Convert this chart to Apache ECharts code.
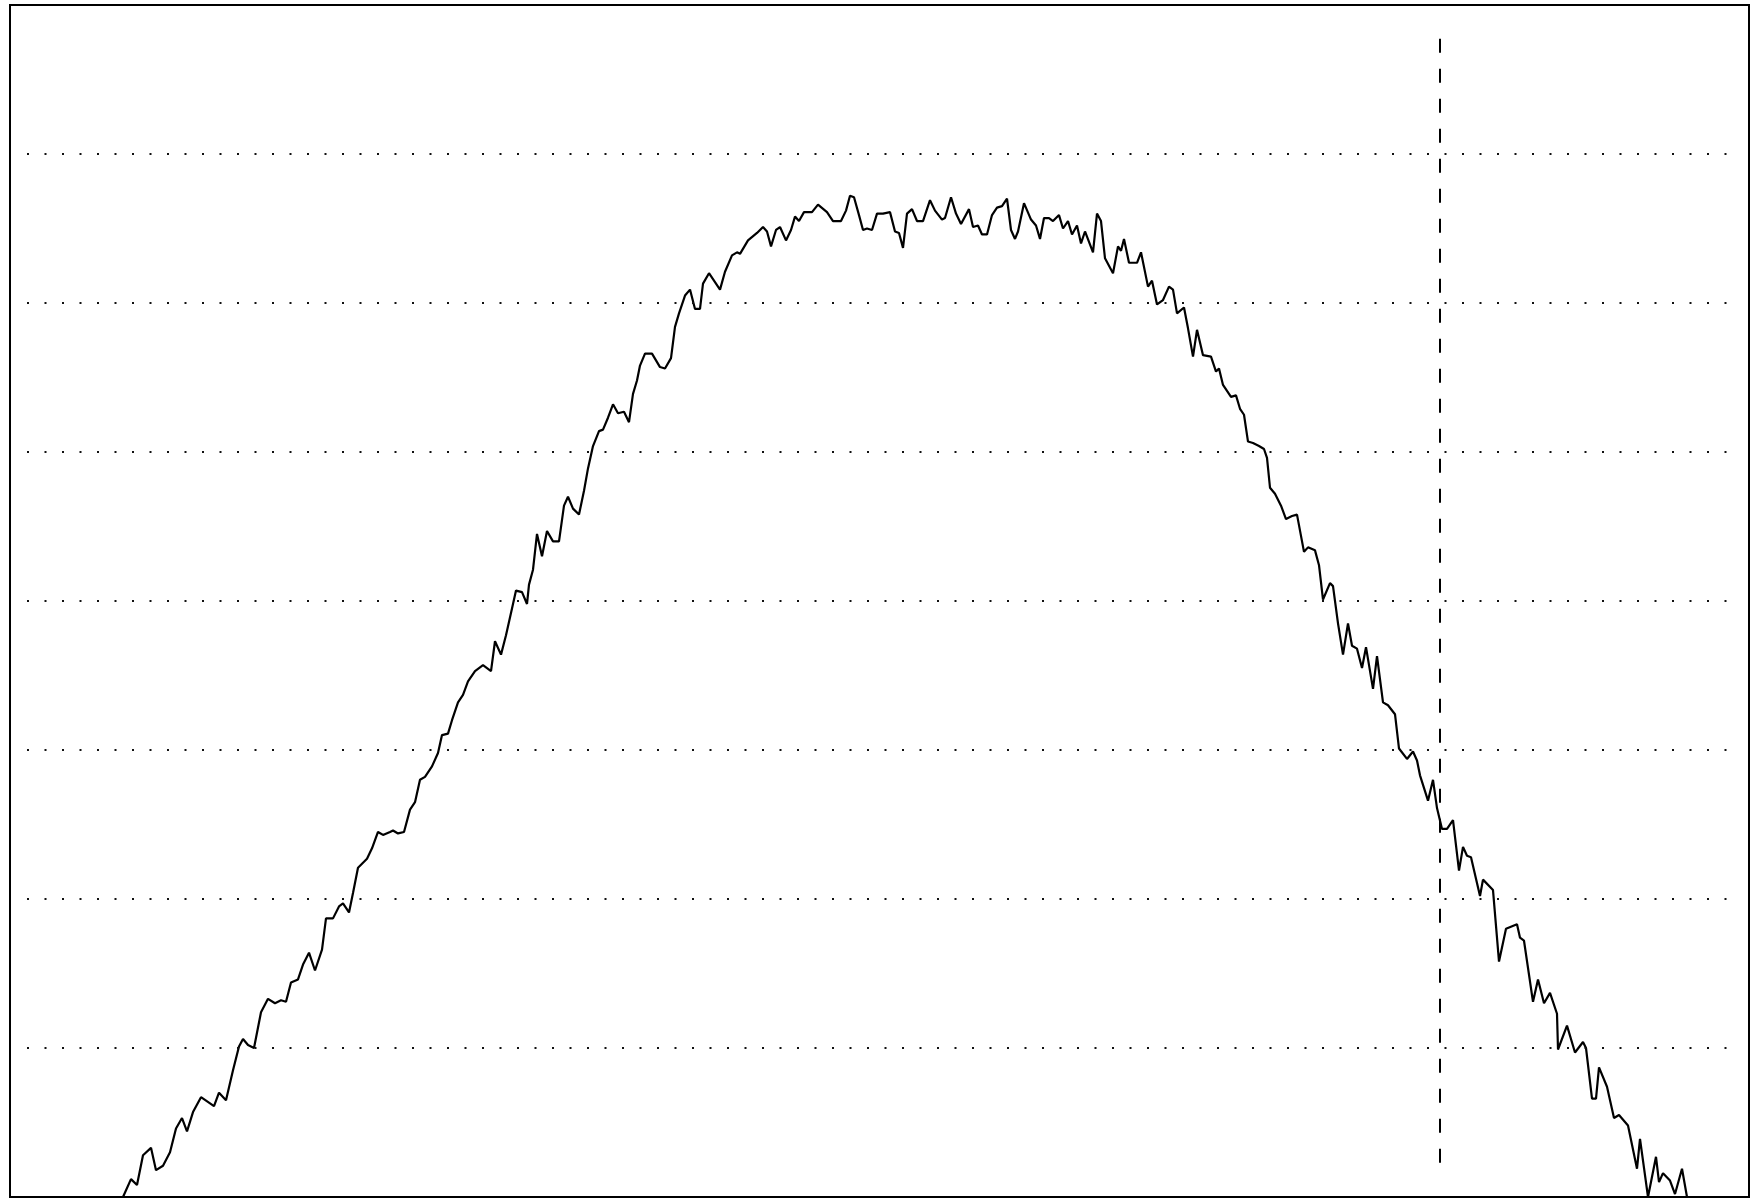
<!DOCTYPE html>
<html>
<head>
<meta charset="utf-8">
<script src="https://cdn.jsdelivr.net/npm/echarts@6/dist/echarts.min.js"></script>
<style>
html,body{margin:0;padding:0;background:#fff;}
#chart{width:1751px;height:1198px;}
</style>
</head>
<body>
<div id="chart"></div>
<script>
// x: channel, y: value (grid step = 1)
const channels = [0,113,121,127,133,141,146,153,160,166,172,177,183,191,204,209,216,223,229,233,238,244,251,258,265,271,276,281,288,293,299,305,312,316,323,329,333,339,343,348,357,362,368,373,380,383,388,394,400,405,410,415,422,428,432,438,442,448,453,458,465,473,481,485,491,496,502,506,512,517,519,523,527,532,537,543,549,554,558,563,569,574,578,583,589,593,598,603,608,614,619,623,627,630,635,642,650,655,661,665,669,675,680,685,690,693,699,710,715,722,727,730,738,747,753,757,761,766,770,776,781,785,789,794,802,808,817,823,831,836,840,844,849,853,857,862,867,873,880,885,889,893,897,902,907,913,920,925,932,935,941,946,951,959,963,968,972,977,982,987,992,997,1001,1005,1008,1014,1021,1026,1030,1034,1039,1043,1049,1053,1058,1062,1067,1071,1075,1079,1083,1087,1091,1095,1103,1108,1111,1114,1119,1127,1131,1138,1142,1147,1153,1159,1163,1167,1174,1178,1183,1187,1193,1201,1206,1209,1213,1221,1226,1230,1234,1238,1243,1249,1254,1257,1260,1265,1271,1276,1282,1287,1294,1298,1305,1309,1313,1320,1323,1328,1333,1338,1342,1347,1352,1356,1363,1367,1373,1378,1385,1389,1397,1403,1407,1410,1418,1423,1427,1432,1437,1443,1449,1453,1457,1461,1470,1473,1483,1489,1496,1507,1510,1514,1523,1528,1534,1540,1547,1548,1557,1565,1573,1576,1582,1586,1589,1597,1604,1609,1618,1627,1630,1638,1646,1649,1653,1660,1665,1672,1677,1739];
const counts = [0,0,0.12,0.08,0.28,0.33,0.18,0.21,0.30,0.46,0.53,0.44,0.57,0.67,0.61,0.70,0.65,0.85,1.01,1.06,1.02,1.00,1.24,1.33,1.30,1.32,1.31,1.44,1.46,1.56,1.64,1.52,1.66,1.87,1.87,1.95,1.97,1.91,2.04,2.21,2.27,2.34,2.45,2.43,2.45,2.46,2.44,2.45,2.60,2.65,2.80,2.82,2.89,2.98,3.10,3.11,3.20,3.32,3.37,3.46,3.53,3.57,3.53,3.73,3.64,3.77,3.95,4.07,4.06,3.98,4.11,4.21,4.45,4.30,4.47,4.40,4.40,4.64,4.70,4.62,4.58,4.74,4.89,5.04,5.14,5.15,5.23,5.32,5.26,5.27,5.20,5.39,5.48,5.58,5.66,5.66,5.57,5.56,5.63,5.84,5.93,6.05,6.09,5.96,5.96,6.13,6.20,6.09,6.21,6.32,6.34,6.33,6.42,6.47,6.51,6.48,6.38,6.49,6.51,6.42,6.49,6.58,6.55,6.61,6.61,6.66,6.61,6.55,6.55,6.62,6.72,6.71,6.59,6.49,6.50,6.49,6.60,6.60,6.61,6.48,6.47,6.37,6.60,6.63,6.55,6.55,6.69,6.62,6.56,6.57,6.71,6.60,6.53,6.63,6.51,6.52,6.46,6.46,6.59,6.64,6.65,6.70,6.49,6.43,6.48,6.67,6.56,6.52,6.43,6.57,6.57,6.55,6.59,6.50,6.55,6.46,6.52,6.40,6.48,6.41,6.34,6.60,6.55,6.30,6.20,6.38,6.35,6.43,6.27,6.27,6.34,6.11,6.15,5.99,6.02,6.11,6.09,5.93,5.97,5.83,5.64,5.82,5.65,5.64,5.54,5.56,5.45,5.37,5.38,5.29,5.25,5.07,5.06,5.04,5.02,4.96,4.76,4.72,4.64,4.55,4.57,4.58,4.33,4.36,4.34,4.24,4.01,4.12,4.10,3.85,3.64,3.85,3.70,3.68,3.55,3.69,3.41,3.63,3.32,3.30,3.24,3.01,2.94,2.99,2.93,2.83,2.66,2.80,2.61,2.47,2.47,2.53,2.19,2.35,2.29,2.28,2.02,2.13,2.06,1.58,1.80,1.83,1.74,1.72,1.31,1.46,1.30,1.37,1.23,0.99,1.15,0.97,1.04,1.00,0.66,0.66,0.87,0.74,0.53,0.55,0.48,0.19,0.39,0.00,0.27,0.10,0.16,0.11,0.02,0.19,0.00,0];
const xRange = [0, 1739];
const yTicks = [0,1,2,3,4,5,6,7,8];
const gridSpan = [17, 1722];   // channels covered by the dotted reference lines
const markerChannel = 1430;
const markerSpan = [0.23, 7.81];

const seriesData = channels.map((c, i) => [c, counts[i]]);
const dotStyle = {color: '#111', width: 2, type: [2, 15.5]};
const gridLines = yTicks.slice(1, -1).map(v => [
  {coord: [gridSpan[0], v], lineStyle: dotStyle},
  {coord: [gridSpan[1], v]}
]);
const markerLine = [
  {coord: [markerChannel, markerSpan[0]], lineStyle: {color: '#000', width: 2, type: [14, 16]}},
  {coord: [markerChannel, markerSpan[1]]}
];

const chart = echarts.init(document.getElementById('chart'), null, {renderer: 'canvas'});
chart.setOption({
  animation: false,
  backgroundColor: '#fff',
  grid: {
    left: 10, right: 2, top: 5, bottom: 1,
    show: true, borderColor: '#000', borderWidth: 2, backgroundColor: 'transparent'
  },
  xAxis: {
    type: 'value', min: xRange[0], max: xRange[1],
    axisLine: {show: false}, axisTick: {show: false}, axisLabel: {show: false},
    splitLine: {show: false}
  },
  yAxis: {
    type: 'value', min: yTicks[0], max: yTicks[yTicks.length - 1], interval: 1,
    axisLine: {show: false}, axisTick: {show: false}, axisLabel: {show: false},
    splitLine: {show: false}
  },
  series: [{
    type: 'line',
    data: seriesData,
    showSymbol: false,
    symbol: 'none',
    lineStyle: {color: '#000', width: 2.2},
    silent: true,
    z: 3,
    markLine: {
      silent: true,
      symbol: ['none', 'none'],
      label: {show: false},
      emphasis: {disabled: true},
      data: gridLines.concat([markerLine])
    }
  }]
});
</script>
</body>
</html>
